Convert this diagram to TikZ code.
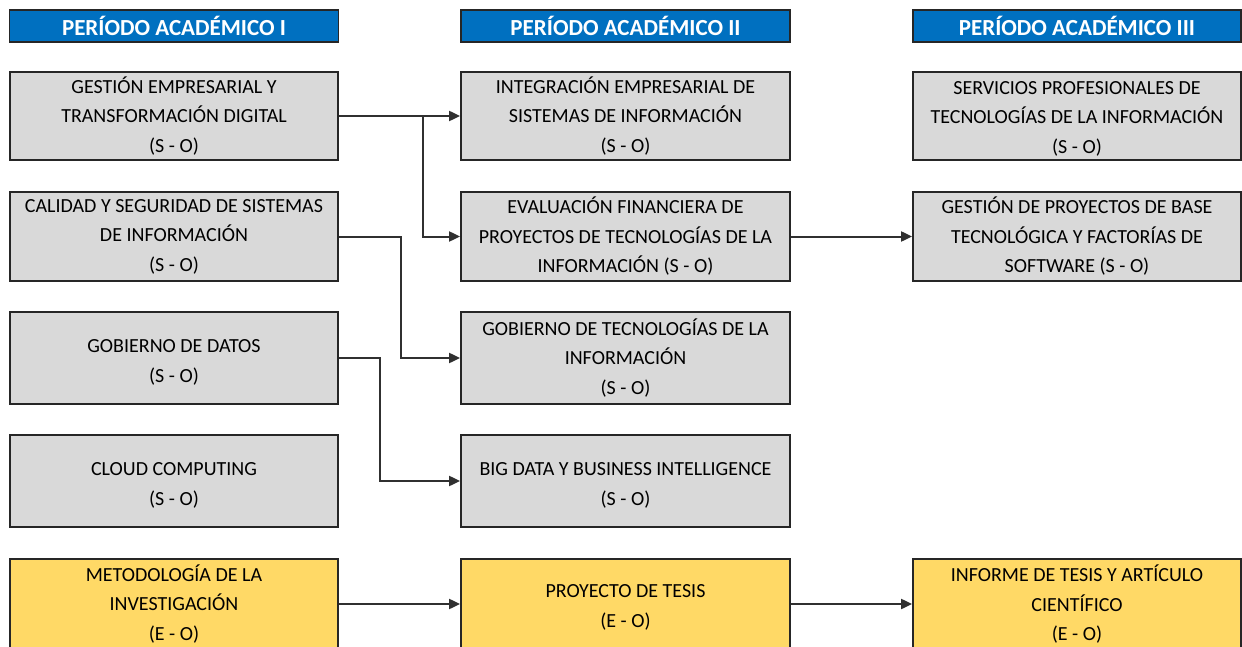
\documentclass[tikz,border=0pt]{standalone}
\usepackage{fontspec}
\setmainfont{Carlito}
\usetikzlibrary{arrows.meta}
\definecolor{hdr}{HTML}{0070C0}
\definecolor{boxg}{HTML}{D9D9D9}
\definecolor{boxy}{HTML}{FFD966}
\definecolor{edge}{HTML}{262626}
\definecolor{ln}{HTML}{303030}
\newcommand\padtop[1]{\rule{0pt}{#1}}
\tikzset{
  hdrbox/.style={draw=edge, line width=1.8pt, fill=hdr, text=white, minimum height=32pt,
    inner sep=0pt, font=\fontsize{23}{24}\selectfont\bfseries},
  course/.style={draw=edge, line width=1.8pt, fill=boxg, inner sep=0pt, align=center,
    text=black, font=\fontsize{20}{29.5}\selectfont},
  thesis/.style={course, fill=boxy},
  conn/.style={draw=ln, line width=2pt, -{Triangle[length=11pt,width=10pt]}},
}
\begin{document}
\begin{tikzpicture}[x=1pt,y=-1pt]
\useasboundingbox (0,0) rectangle (1242,647);
\clip (0,0) rectangle (1242,647);
% headers
\node[hdrbox, minimum width=329pt] (H1) at (174,26) {PERÍODO ACADÉMICO I};
\node[hdrbox, minimum width=329pt] (H2) at (625.5,26) {PERÍODO ACADÉMICO II};
\node[hdrbox, minimum width=328pt] (H3) at (1077,26) {PERÍODO ACADÉMICO III};
% column 1
\node[course, minimum width=328pt, minimum height=88pt] (A1) at (174,116) {GESTIÓN EMPRESARIAL Y\\TRANSFORMACIÓN DIGITAL\\(S - O)};
\node[course, minimum width=328pt, minimum height=89pt] (A2) at (174,236.5) {CALIDAD Y SEGURIDAD DE SISTEMAS\\DE INFORMACIÓN\\(S - O)};
\node[course, minimum width=328pt, minimum height=92pt] (A3) at (174,358) {\padtop{22pt}GOBIERNO DE DATOS\\(S - O)};
\node[course, minimum width=328pt, minimum height=92pt] (A4) at (174,481) {\padtop{22pt}CLOUD COMPUTING\\(S - O)};
\node[thesis, minimum width=328pt, minimum height=90pt] (A5) at (174,604) {METODOLOGÍA DE LA\\INVESTIGACIÓN\\(E - O)};
% column 2
\node[course, minimum width=329pt, minimum height=88pt] (B1) at (625.5,116) {INTEGRACIÓN EMPRESARIAL DE\\SISTEMAS DE INFORMACIÓN\\(S - O)};
\node[course, minimum width=329pt, minimum height=89pt] (B2) at (625.5,236.5) {EVALUACIÓN FINANCIERA DE\\PROYECTOS DE TECNOLOGÍAS DE LA\\INFORMACIÓN (S - O)};
\node[course, minimum width=329pt, minimum height=92pt] (B3) at (625.5,358) {GOBIERNO DE TECNOLOGÍAS DE LA\\INFORMACIÓN\\(S - O)};
\node[course, minimum width=329pt, minimum height=92pt] (B4) at (625.5,481) {\padtop{22pt}BIG DATA Y BUSINESS INTELLIGENCE\\(S - O)};
\node[thesis, minimum width=329pt, minimum height=90pt] (B5) at (625.5,604) {\padtop{20pt}PROYECTO DE TESIS\\(E - O)};
% column 3
\node[course, minimum width=328pt, minimum height=88pt] (C1) at (1077,116) {\padtop{18pt}SERVICIOS PROFESIONALES DE\\TECNOLOGÍAS DE LA INFORMACIÓN\\(S - O)};
\node[course, minimum width=328pt, minimum height=89pt] (C2) at (1077,236.5) {GESTIÓN DE PROYECTOS DE BASE\\TECNOLÓGICA Y FACTORÍAS DE\\SOFTWARE (S - O)};
\node[thesis, minimum width=328pt, minimum height=90pt] (C5) at (1077,604) {\padtop{17pt}INFORME DE TESIS Y ARTÍCULO\\CIENTÍFICO\\(E - O)};
% junction coordinates
\coordinate (j1) at (423,116);
\coordinate (j2) at (401,0);
\coordinate (j3) at (380,0);
% connectors
\draw[conn] (A1.east) -- (B1.west);
\draw[conn] (j1) |- (B2.west);
\draw[conn] (A2.east) -- (A2.east -| j2) |- (B3.west);
\draw[conn] (A3.east) -- (A3.east -| j3) |- (B4.west);
\draw[conn] (B2.east) -- (C2.west);
\draw[conn] (A5.east) -- (B5.west);
\draw[conn] (B5.east) -- (C5.west);
\end{tikzpicture}
\end{document}
